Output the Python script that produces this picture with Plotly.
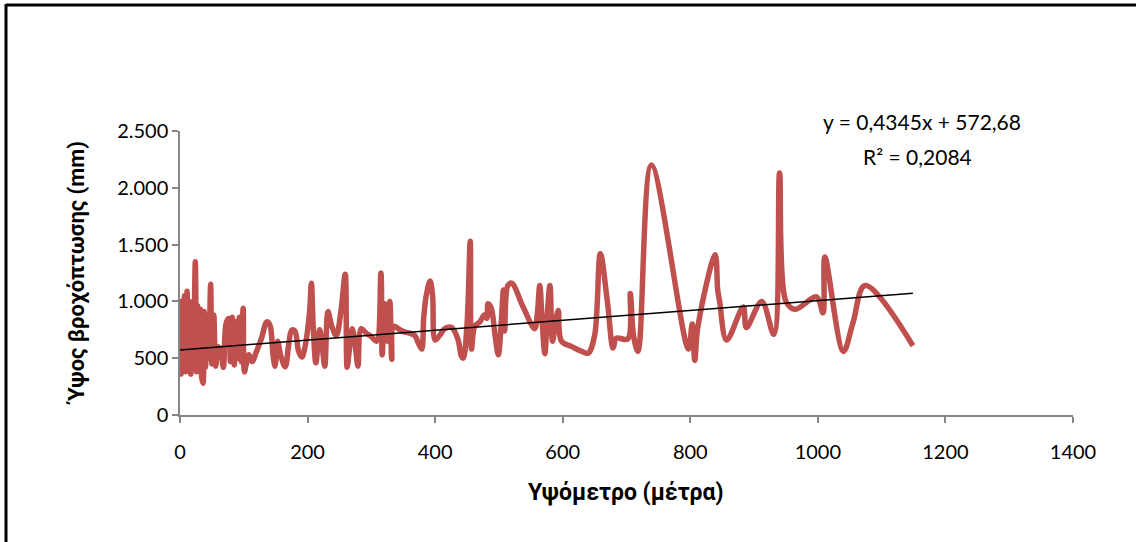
import plotly.graph_objects as go

# Altitude (m) of each station, sorted ascending
altitude = [
    0, 1, 2, 3, 5, 7, 9, 11, 13, 15, 17, 19, 21, 24, 26, 28, 30, 32, 34, 36,
    38, 40, 42, 45, 48, 50, 53, 56, 60, 64, 68, 72, 76, 79, 82, 85, 88, 90,
    93, 96, 99, 101, 104, 108, 113, 120, 128, 136, 141, 146, 149, 153, 158,
    165, 170, 175, 180, 186, 191, 196, 203, 206, 209, 213, 219, 223, 227,
    232, 238, 245, 252, 259, 262, 266, 270, 275, 279, 284, 292, 300, 308,
    315, 317, 321, 325, 329, 332, 335, 345, 353, 360, 368, 374, 379, 382,
    386, 392, 396, 400, 407, 415, 426, 436, 441, 444, 450, 455, 457, 462,
    470, 477, 481, 483, 488, 494, 499, 504, 507, 509, 514, 520, 538, 556,
    560, 564, 568, 572, 576, 580, 584, 588, 593, 598, 615, 630, 640, 650,
    659, 670, 679, 684, 702, 706, 711, 718, 739, 797, 803, 807, 812, 839,
    843, 846, 857, 883, 888, 912, 931, 940, 950, 964, 998, 1008, 1011,
    1040, 1055, 1074, 1149,
]

# Annual rainfall depth (mm) at each station
rainfall = [
    600, 1000, 360, 980, 400, 1050, 380, 1090, 420, 1000, 360, 980, 420,
    1350, 380, 960, 450, 930, 330, 280, 910, 420, 800, 500, 1150, 450, 880,
    430, 600, 560, 420, 800, 850, 470, 860, 440, 820, 500, 860, 470, 940,
    380, 450, 530, 470, 560, 680, 820, 790, 520, 430, 650, 520, 425, 600,
    745, 740, 560, 510, 600, 900, 1160, 760, 460, 750, 600, 430, 910, 780,
    700, 900, 1240, 420, 600, 760, 600, 430, 760, 720, 690, 650, 1250, 530,
    980, 650, 1000, 490, 780, 750, 730, 720, 700, 630, 580, 850, 1050, 1180,
    1050, 660, 700, 760, 770, 660, 520, 500, 800, 1530, 580, 780, 820, 880,
    850, 980, 940, 700, 530, 850, 1100, 740, 1140, 1160, 950, 760, 880,
    1140, 800, 540, 900, 1140, 650, 780, 920, 650, 600, 560, 545, 700, 1420,
    1000, 590, 675, 670, 1070, 700, 560, 2200, 580, 800, 480, 780, 1410,
    1100, 1000, 660, 950, 770, 1000, 710, 2130, 1000, 930, 1040, 900, 1390,
    560, 810, 1140, 610,
]

# Linear trend reported for the series
slope = 0.4345
intercept = 572.68
r_squared = 0.2084

x_ticks = [0, 200, 400, 600, 800, 1000, 1200, 1400]
y_ticks = [0, 500, 1000, 1500, 2000, 2500]

trend_x = [min(altitude), max(altitude)]
trend_y = [intercept + slope * v for v in trend_x]

fig = go.Figure()
fig.add_trace(go.Scatter(
    x=altitude, y=rainfall, mode="lines",
    line=dict(color="#C0504D", width=5.5, shape="spline", smoothing=1.0),
    showlegend=False,
))
fig.add_trace(go.Scatter(
    x=trend_x, y=trend_y, mode="lines",
    line=dict(color="#000000", width=1.5),
    showlegend=False,
))

num_font = dict(family="Lato, Roboto, sans-serif", size=20, color="#000000")
xtitle_font = dict(family="Roboto, sans-serif", size=23, color="#000000")
ytitle_font = dict(family="Roboto, sans-serif", size=22, color="#000000")
eq_font = dict(family="Lato, Roboto, sans-serif", size=21, color="#000000")

L, R, T, B = 180, 1073, 131, 415
W, H = 1136, 542
pw, ph = R - L, B - T


def px_x(p):
    return (p - L) / pw


def px_y(p):
    return (B - p) / ph


def label(text, cx, cy, font, angle=0):
    return dict(text=text, xref="paper", yref="paper",
                x=px_x(cx), y=px_y(cy), xanchor="center", yanchor="middle",
                showarrow=False, textangle=angle, font=font)


fig.update_layout(
    width=W, height=H,
    margin=dict(l=L, r=W - R, t=T, b=H - B, pad=0),
    paper_bgcolor="white", plot_bgcolor="white",
    separators=",.",
    xaxis=dict(
        range=[0, 1400], tickvals=x_ticks, tickformat="d",
        showline=True, linecolor="#868686", linewidth=1.5,
        ticks="outside", ticklen=6, tickcolor="#868686", tickwidth=1.5,
        showgrid=False, zeroline=False, tickfont=num_font,
        ticklabelstandoff=12,
    ),
    yaxis=dict(
        range=[0, 2500], tickvals=y_ticks, tickformat=",d",
        showline=True, linecolor="#868686", linewidth=1.5,
        ticks="outside", ticklen=6, tickcolor="#868686", tickwidth=1.5,
        showgrid=False, zeroline=False, tickfont=num_font,
    ),
    annotations=[
        label("y = 0,4345x + 572,68", 922, 122, eq_font),
        label("R² = 0,2084", 917, 156, eq_font),
        label("<b>Υψόμετρο (μέτρα)</b>", 626, 492, xtitle_font),
        label("<b>Ύψος βροχόπτωσης (mm)</b>", 77, 273, ytitle_font, -90),
    ],
    shapes=[
        # frame edges around the chart area
        dict(type="line", xref="paper", yref="paper",
             x0=px_x(6), x1=px_x(W + 2), y0=px_y(5), y1=px_y(5),
             line=dict(color="#000", width=3)),
        dict(type="line", xref="paper", yref="paper",
             x0=px_x(6), x1=px_x(6), y0=px_y(4), y1=px_y(H + 2),
             line=dict(color="#000", width=3)),
    ],
)

fig.write_html("out.html")
